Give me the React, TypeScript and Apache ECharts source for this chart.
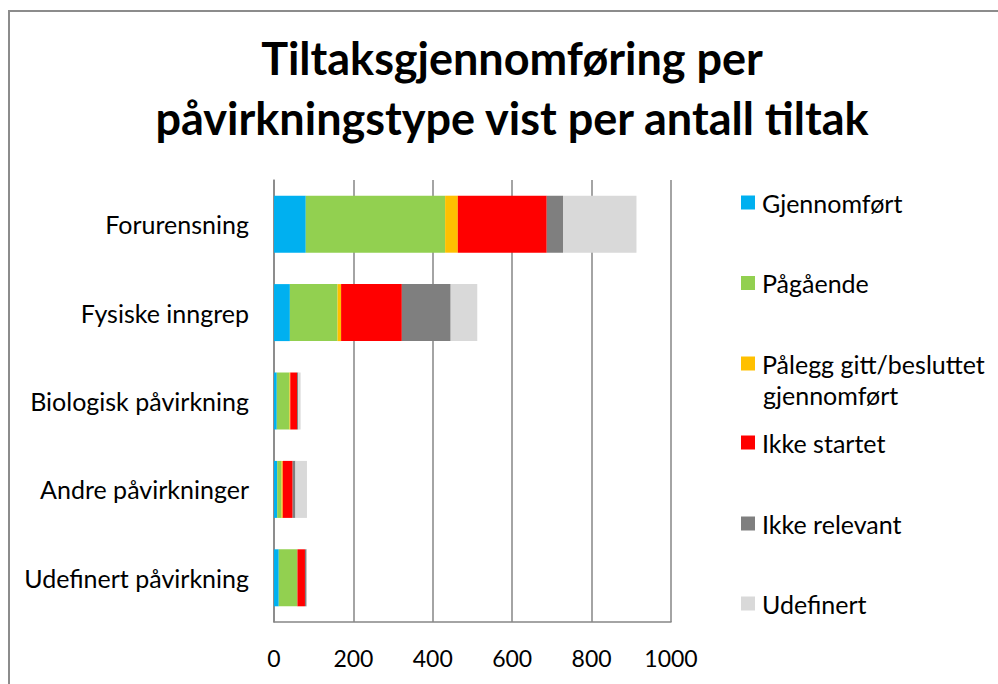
import React, { useEffect, useRef } from "react";
import * as echarts from "echarts";

const categories = [
  "Forurensning",
  "Fysiske inngrep",
  "Biologisk påvirkning",
  "Andre påvirkninger",
  "Udefinert påvirkning",
];
const seriesNames = [
  "Gjennomført",
  "Pågående",
  "Pålegg gitt/besluttet gjennomført",
  "Ikke startet",
  "Ikke relevant",
  "Udefinert",
];
const gjennomfort = [80, 40, 7, 8, 12];
const pagaende = [351, 120, 32, 11, 47];
const palegg = [32, 9, 2, 3, 0];
const ikkeStartet = [224, 153, 17, 25, 19];
const ikkeRelevant = [41, 123, 3, 7, 4];
const udefinert = [185, 67, 6, 29, 1];
const xTicks = [0, 1000, 200];
const colors = ["#00B0F0", "#92D050", "#FFC000", "#FF0000", "#7F7F7F", "#D9D9D9"];

const FONT = "Lato";

export default function App() {
  const ref = useRef<HTMLDivElement>(null);
  useEffect(() => {
    if (!ref.current) return;
    const chart = echarts.init(ref.current, null, { renderer: "svg" });
    const values = [gjennomfort, pagaende, palegg, ikkeStartet, ikkeRelevant, udefinert];
    const legendCenters = [204, 284.5, 365, 444, 525, 605];
    chart.setOption({
      animation: false,
      backgroundColor: "#ffffff",
      title: {
        text: "Tiltaksgjennomføring per\npåvirkningstype vist per antall tiltak",
        left: 512,
        top: 28,
        textAlign: "center",
        padding: 0,
        textStyle: {
          fontFamily: FONT,
          fontWeight: "bold",
          fontSize: 45,
          lineHeight: 60,
          color: "#000",
        },
      },
      legend: seriesNames.map((n, i) => ({
        data: [n],
        orient: "vertical",
        left: 741,
        top: legendCenters[i] - 14,
        padding: 0,
        itemWidth: 14,
        itemHeight: 14,
        itemGap: 0,
        icon: "rect",
        selectedMode: false,
        formatter: (name: string) =>
          name === "Pålegg gitt/besluttet gjennomført" ? "Pålegg gitt/besluttet" : name,
        textStyle: { fontFamily: FONT, fontSize: 25, color: "#000", padding: [0, 0, 0, 2] },
      })),
      graphic: [
        {
          type: "rect",
          shape: { x: 9, y: 11, width: 1200, height: 900 },
          style: { fill: "none", stroke: "#8c8c8c", lineWidth: 2 },
          silent: true,
        },
        {
          type: "text",
          x: 763,
          y: 395,
          style: {
            text: "gjennomført",
            fontFamily: FONT,
            fontSize: 25,
            fill: "#000",
            verticalAlign: "middle",
          },
        },
      ],
      grid: { left: 274, top: 180, width: 397, height: 442, containLabel: false },
      xAxis: {
        type: "value",
        min: xTicks[0],
        max: xTicks[1],
        interval: xTicks[2],
        axisLine: { show: true, lineStyle: { color: "#868686", width: 1.5 } },
        axisTick: { show: false },
        splitLine: { show: true, lineStyle: { color: "#868686", width: 1.5 } },
        axisLabel: {
          fontFamily: FONT,
          fontSize: 23,
          color: "#000",
          margin: 24,
          formatter: (v: number) => String(v),
        },
      },
      yAxis: {
        type: "category",
        inverse: true,
        data: categories,
        axisLine: { show: true, lineStyle: { color: "#868686", width: 1.5 } },
        axisTick: { show: false },
        axisLabel: { fontFamily: FONT, fontSize: 25, color: "#000", margin: 25 },
      },
      series: seriesNames.map((n, i) => ({
        name: n,
        type: "bar",
        stack: "total",
        barWidth: 57,
        itemStyle: { color: colors[i] },
        data: values[i],
      })),
    });
    return () => chart.dispose();
  }, []);
  return (
    <div
      ref={ref}
      style={{ position: "fixed", left: 0, top: 0, width: 998, height: 684 }}
    />
  );
}
